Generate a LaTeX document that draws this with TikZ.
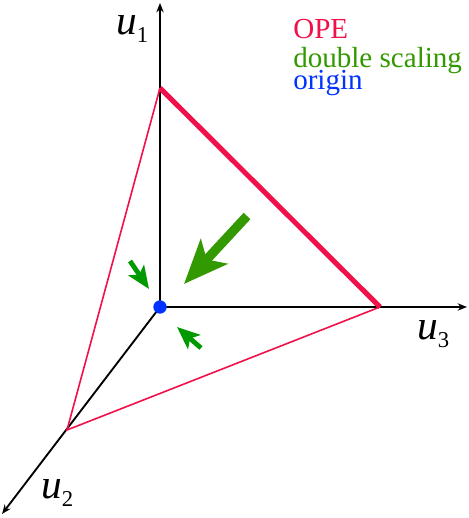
\documentclass[tikz,border=0pt]{standalone}
\usepackage{fontspec}
\setmainfont{Liberation Serif}
\usetikzlibrary{arrows.meta}
\definecolor{opecolor}{HTML}{F0104A}
\definecolor{scalecolor}{HTML}{339900}
\definecolor{flowcolor}{HTML}{009900}
\definecolor{origincolor}{HTML}{0033FF}
\newcommand{\axisname}[1]{u\lower6pt\hbox{\upshape\fontsize{17}{17}\selectfont #1}}

\begin{document}
\begin{tikzpicture}[x=0.75pt, y=-0.75pt,
    axis/.style={-{Stealth[length=7pt, width=5.5pt]}, line width=1.4pt},
    opeedge/.style={opecolor, line width=#1},
    bigflow/.style={scalecolor, line width=7pt, -{Stealth[length=33pt, width=27pt, inset=8pt]}},
    smallflow/.style={flowcolor, line width=3.6pt, -{Stealth[length=17pt, width=14pt, inset=4pt]}},
    axislabel/.style={anchor=base west, inner sep=0pt, font=\fontsize{31}{31}\selectfont\itshape},
    legend/.style={anchor=base west, inner sep=0pt, text=#1, font=\fontsize{21.8}{21.8}\selectfont}
]
\useasboundingbox (0,0) rectangle (468,518);

% Axes
\coordinate (O) at (160,307);
\coordinate (top) at (160,3);
\coordinate (right) at (467,307);
\coordinate (low) at (2,514);
\draw[axis] (O) -- (top);
\draw[axis] (O) -- (right);
\draw[axis] (O) -- (low);

% Triangle on the axes
\coordinate (c1) at (160,88);
\coordinate (c3) at (380,307);
\coordinate (c2) at (67,430);
\draw[opeedge=1.2pt] (c1) -- (c2) -- (c3);
\draw[opeedge=3.8pt] (c1) -- (c3);

% Flows towards the origin
\coordinate (big0) at (247,216);
\coordinate (big1) at (184,284);
\coordinate (left0) at (130,261);
\coordinate (left1) at (149,289);
\coordinate (down0) at (201,348);
\coordinate (down1) at (177,327);
\draw[bigflow] (big0) -- (big1);
\draw[smallflow] (left0) -- (left1);
\draw[smallflow] (down0) -- (down1);

% Origin
\node[circle, fill=origincolor, inner sep=0pt, minimum size=10pt] (orig) at (O) {};

% Axis labels
\node[axislabel] (lab1) at (116,34) {\axisname{1}};
\node[axislabel] (lab3) at (417,339) {\axisname{3}};
\node[axislabel] (lab2) at (41,498) {\axisname{2}};

% Legend
\node[legend=opecolor] (ope) at (293,38) {OPE};
\node[legend=scalecolor] (dbl) at (293,67) {double scaling};
\node[legend=origincolor] (org) at (293,89) {origin};
\end{tikzpicture}
\end{document}
